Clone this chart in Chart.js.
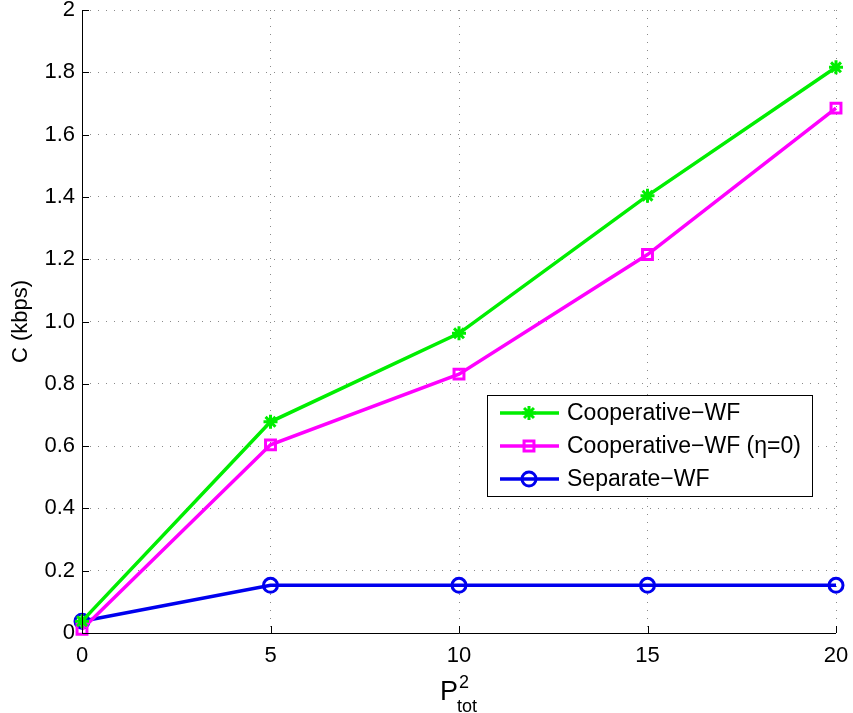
<!DOCTYPE html>
<html>
<head>
<meta charset="utf-8">
<script src="https://cdn.jsdelivr.net/npm/chart.js@4/dist/chart.umd.min.js"></script>
<style>
  html, body { margin: 0; padding: 0; background: #fff; }
  #wrap { width: 853px; height: 713px; }
</style>
</head>
<body>
<div id="wrap"><canvas id="grafico" width="853" height="713"></canvas></div>
<script>
const potencias = [0, 5, 10, 15, 20];
const coopWF = [0.038, 0.678, 0.962, 1.404, 1.816];
const coopWFEta0 = [0.012, 0.604, 0.831, 1.215, 1.685];
const separadoWF = [0.038, 0.153, 0.153, 0.153, 0.153];
const rotulosY = ['0', '0.2', '0.4', '0.6', '0.8', '1.0', '1.2', '1.4', '1.6', '1.8', '2'];
const nomes = ['Cooperative\u2212WF', 'Cooperative\u2212WF (\u03b7=0)', 'Separate\u2212WF'];

const fonte = 'Liberation Sans, Arial, Helvetica, sans-serif';

function serie(nome, valores, cor, estilo, raio) {
  const fundo = estilo === 'star' ? cor : 'rgba(255,255,255,0)';
  return {
    label: nome,
    data: potencias.map((p, i) => ({ x: p, y: valores[i] })),
    borderColor: cor,
    backgroundColor: fundo,
    borderWidth: 3.5,
    pointStyle: estilo,
    pointRadius: raio,
    pointBorderWidth: 3,
    pointBorderColor: cor,
    pointBackgroundColor: fundo,
    tension: 0,
    clip: false
  };
}

// marcas internas nos eixos (estilo MATLAB)
const marcasInternas = {
  id: 'marcasInternas',
  afterDatasetsDraw(chart) {
    const { ctx, chartArea: a, scales } = chart;
    ctx.save();
    ctx.strokeStyle = '#000';
    ctx.lineWidth = 1;
    scales.y.ticks.forEach(t => {
      const y = Math.round(scales.y.getPixelForValue(t.value)) + 0.5;
      ctx.beginPath(); ctx.moveTo(a.left, y); ctx.lineTo(a.left + 7, y); ctx.stroke();
    });
    scales.x.ticks.forEach(t => {
      const x = Math.round(scales.x.getPixelForValue(t.value)) + 0.5;
      ctx.beginPath(); ctx.moveTo(x, a.bottom); ctx.lineTo(x, a.bottom - 7); ctx.stroke();
    });
    ctx.beginPath();
    ctx.moveTo(a.left + 0.5, a.top); ctx.lineTo(a.left + 0.5, a.bottom + 0.5); ctx.lineTo(a.right, a.bottom + 0.5);
    ctx.stroke();
    ctx.restore();
  }
};

// legenda dentro do gráfico
const legendaCaixa = {
  id: 'legendaCaixa',
  afterDraw(chart) {
    const { ctx } = chart;
    const x0 = 487, y0 = 395, w = 325, h = 101;
    ctx.save();
    ctx.fillStyle = '#fff';
    ctx.fillRect(x0, y0, w, h);
    ctx.strokeStyle = '#000';
    ctx.lineWidth = 1;
    ctx.strokeRect(x0 + 0.5, y0 + 0.5, w, h);
    ctx.font = '23px ' + fonte;
    ctx.textBaseline = 'middle';
    const linhas = [y0 + 18, y0 + 51, y0 + 84];
    chart.data.datasets.forEach((ds, i) => {
      const y = linhas[i];
      ctx.strokeStyle = ds.borderColor;
      ctx.lineWidth = 3.5;
      ctx.beginPath(); ctx.moveTo(x0 + 13, y); ctx.lineTo(x0 + 72, y); ctx.stroke();
      ctx.fillStyle = ds.pointBackgroundColor;
      ctx.strokeStyle = ds.pointBorderColor;
      ctx.lineWidth = 3;
      Chart.helpers.drawPoint(ctx, {
        pointStyle: ds.pointStyle, radius: ds.pointRadius, borderWidth: 3, rotation: 0
      }, x0 + 42, y);
      ctx.fillStyle = '#000';
      ctx.fillText(ds.label, x0 + 80, y + 1);
    });
    ctx.restore();
  }
};

// título do eixo x com sobrescrito e subscrito
const tituloX = {
  id: 'tituloX',
  afterDraw(chart) {
    const { ctx, chartArea: a } = chart;
    const cx = (a.left + a.right) / 2;
    ctx.save();
    ctx.fillStyle = '#000';
    ctx.textBaseline = 'alphabetic';
    ctx.font = '27px ' + fonte;
    const wP = ctx.measureText('P').width;
    ctx.font = '18px ' + fonte;
    const wSub = ctx.measureText('tot').width;
    const x = cx - (wP + wSub) / 2;
    ctx.font = '27px ' + fonte;
    ctx.fillText('P', x, 700);
    ctx.font = '18px ' + fonte;
    ctx.fillText('2', x + wP + 1, 688);
    ctx.fillText('tot', x + wP - 1, 712);
    ctx.restore();
  }
};

new Chart(document.getElementById('grafico').getContext('2d'), {
  type: 'line',
  data: {
    datasets: [
      serie(nomes[0], coopWF, '#00ee00', 'star', 7),
      serie(nomes[1], coopWFEta0, '#ff00ff', 'rect', 7),
      serie(nomes[2], separadoWF, '#0000ee', 'circle', 7)
    ]
  },
  options: {
    responsive: false,
    animation: false,
    layout: { padding: { left: 0, right: 17, top: 8, bottom: 0 } },
    plugins: { legend: { display: false }, tooltip: { enabled: false } },
    scales: {
      x: {
        type: 'linear',
        min: 0, max: 20,
        afterBuildTicks(s) { s.ticks = potencias.map(v => ({ value: v })); },
        ticks: { color: '#000', font: { family: fonte, size: 22 }, padding: 10, maxRotation: 0 },
        grid: { color: '#8a8a8a', lineWidth: 1, drawTicks: false },
        border: { display: false, dash: [1, 7] },
        afterFit(s) { s.height = 80; s.paddingLeft = 0; s.paddingRight = 0; }
      },
      y: {
        min: 0, max: 2,
        afterBuildTicks(s) { s.ticks = rotulosY.map(v => ({ value: parseFloat(v) })); },
        ticks: {
          color: '#000', font: { family: fonte, size: 22 }, padding: 7,
          callback: (v, i) => rotulosY[i]
        },
        grid: { color: '#8a8a8a', lineWidth: 1, drawTicks: false },
        border: { display: false, dash: [1, 7] },
        title: { display: true, text: 'C (kbps)', color: '#000', font: { family: fonte, size: 22 }, padding: { top: 8, bottom: 0 } },
        afterFit(s) { s.width = 82; s.paddingTop = 0; s.paddingBottom = 0; }
      }
    }
  },
  plugins: [marcasInternas, legendaCaixa, tituloX]
});
</script>
</body>
</html>
